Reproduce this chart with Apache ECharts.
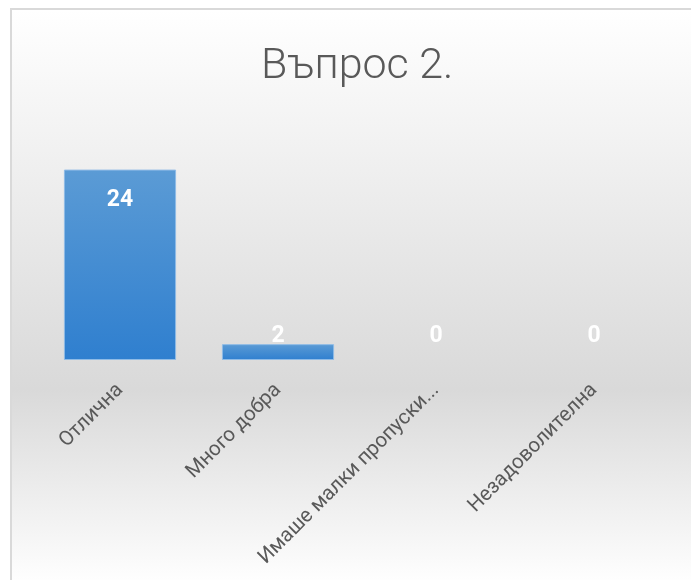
<!DOCTYPE html>
<html>
<head>
<meta charset="utf-8">
<title>Въпрос 2.</title>
<script src="https://cdn.jsdelivr.net/npm/echarts@6/dist/echarts.min.js"></script>
<style>
  html, body { margin: 0; padding: 0; background: #fff; }
  #frame {
    position: absolute; left: 10px; top: 8px; width: 700px; height: 575px;
    border-left: 2px solid #d9d9d9; border-top: 2px solid #d9d9d9;
    background: linear-gradient(to bottom, #ffffff 0%, #d9d9d9 66%, #ffffff 100%);
  }
  #chart { position: absolute; left: 0; top: 0; width: 691px; height: 580px; }
</style>
</head>
<body>
<div id="frame"></div>
<div id="chart"></div>
<script>
// chart data
const categories = ['Отлична', 'Много добра', 'Имаше малки пропуски...', 'Незадоволителна']
const values = [24, 2, 0, 0]

const chart = echarts.init(document.getElementById('chart'), null, { renderer: 'canvas' })

const barFill = new echarts.graphic.LinearGradient(0, 0, 0, 1, [
  { offset: 0, color: '#5b9bd5' },
  { offset: 1, color: '#2f7fcf' }
])

// Excel puts the label inside the tall bar, above the short ones
const barData = values.map(v => ({
  value: v,
  itemStyle: { borderWidth: v > 0 ? 1 : 0 },
  label: v > 5
    ? { position: 'insideTop', distance: 19 }
    : { position: 'top', distance: v === 0 ? 12 : -4 }
}))

const option = {
  backgroundColor: 'transparent',
  title: {
    text: 'Въпрос 2.',
    left: 256,
    top: 41,
    textStyle: {
      fontFamily: 'Roboto',
      fontWeight: 300,
      fontSize: 43,
      color: '#595959'
    }
  },
  grid: {
    left: 41,
    right: 18,
    top: 122,
    bottom: 220,
    containLabel: false
  },
  xAxis: {
    type: 'category',
    data: categories,
    axisLine: { show: false },
    axisTick: { show: false },
    axisLabel: {
      rotate: 45,
      margin: 27,
      interval: 0,
      fontFamily: 'Roboto',
      fontSize: 20.5,
      color: '#595959'
    }
  },
  yAxis: {
    type: 'value',
    min: 0,
    max: 30,
    show: false
  },
  series: [{
    type: 'bar',
    data: barData,
    barWidth: '71%',
    itemStyle: {
      color: barFill,
      borderColor: '#8fbbe6'
    },
    label: {
      show: true,
      color: '#ffffff',
      fontFamily: 'Roboto',
      fontWeight: 'bold',
      fontSize: 23
    }
  }]
}

chart.setOption(option)
</script>
</body>
</html>
